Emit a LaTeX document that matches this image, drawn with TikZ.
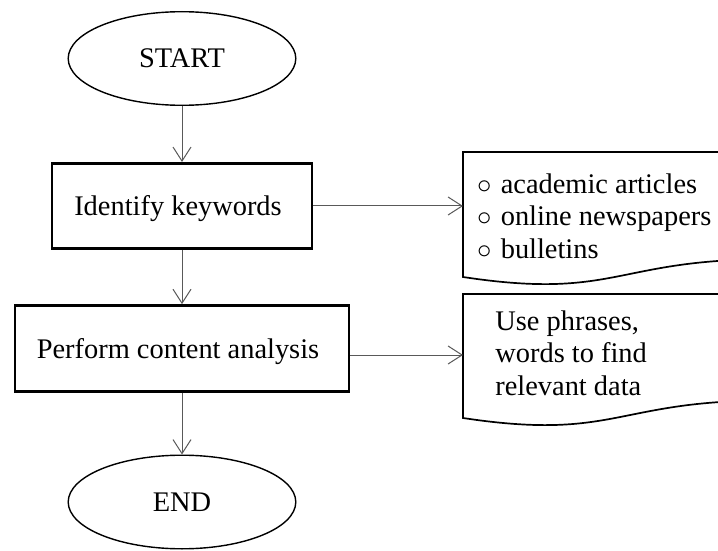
\documentclass[tikz,border=0pt]{standalone}
\usepackage{fontspec}
\setmainfont{Liberation Serif}
\usetikzlibrary{shapes.geometric,arrows.meta}

\begin{document}
\begin{tikzpicture}[x=0.5pt,y=-0.5pt,
    font=\fontsize{14.2}{16.3}\selectfont,
    term/.style={ellipse,draw,line width=0.7pt,inner sep=0pt,minimum width=113.8pt,minimum height=46.8pt},
    proc/.style={rectangle,draw,line width=1.35pt,inner sep=0pt,text depth=0pt},
    doc/.style={draw,line width=0.85pt},
    flow/.style={draw=black!65,line width=0.5pt,-{Straight Barb[length=7pt,width=9pt]}}]
  \clip (0,0) rectangle (718,551);
  % main column
  \node[term] (start) at (182,58.5) {START};
  \node[proc,minimum width=130pt,minimum height=42.7pt] (keys) at (182,206) {Identify keywords\hspace*{4pt}};
  \node[proc,minimum width=167pt,minimum height=43pt] (analysis) at (182,348.5) {Perform content analysis\hspace*{4pt}};
  \node[term] (end) at (182,502) {END};
  \draw[flow] (start) -- (keys);
  \draw[flow] (keys) -- (analysis);
  \draw[flow] (analysis) -- (end);
  % first document
  \draw[doc] (463,152) -- (768,152) -- (768,259.3)
    .. controls (615.5,259.3) and (615.5,300.2) .. (463,277) -- cycle;
  \node[anchor=west,align=left,inner sep=0pt] (sources) at (477,216)
    {$\circ$\hspace{4.5pt}academic articles\\ $\circ$\hspace{4.5pt}online newspapers\\ $\circ$\hspace{4.5pt}bulletins};
  \coordinate (src-in) at (463,206);
  \draw[flow] (keys.east) -- (src-in);
  % second document
  \draw[doc] (463,294) -- (768,294) -- (768,400.5)
    .. controls (615.5,400.5) and (615.5,441.1) .. (463,418) -- cycle;
  \node[anchor=west,align=left,inner sep=0pt] (method) at (495,353)
    {Use phrases,\\ words to find\\ relevant data};
  \coordinate (met-in) at (463,355);
  \draw[flow] (analysis.east |- met-in) -- (met-in);
\end{tikzpicture}
\end{document}
